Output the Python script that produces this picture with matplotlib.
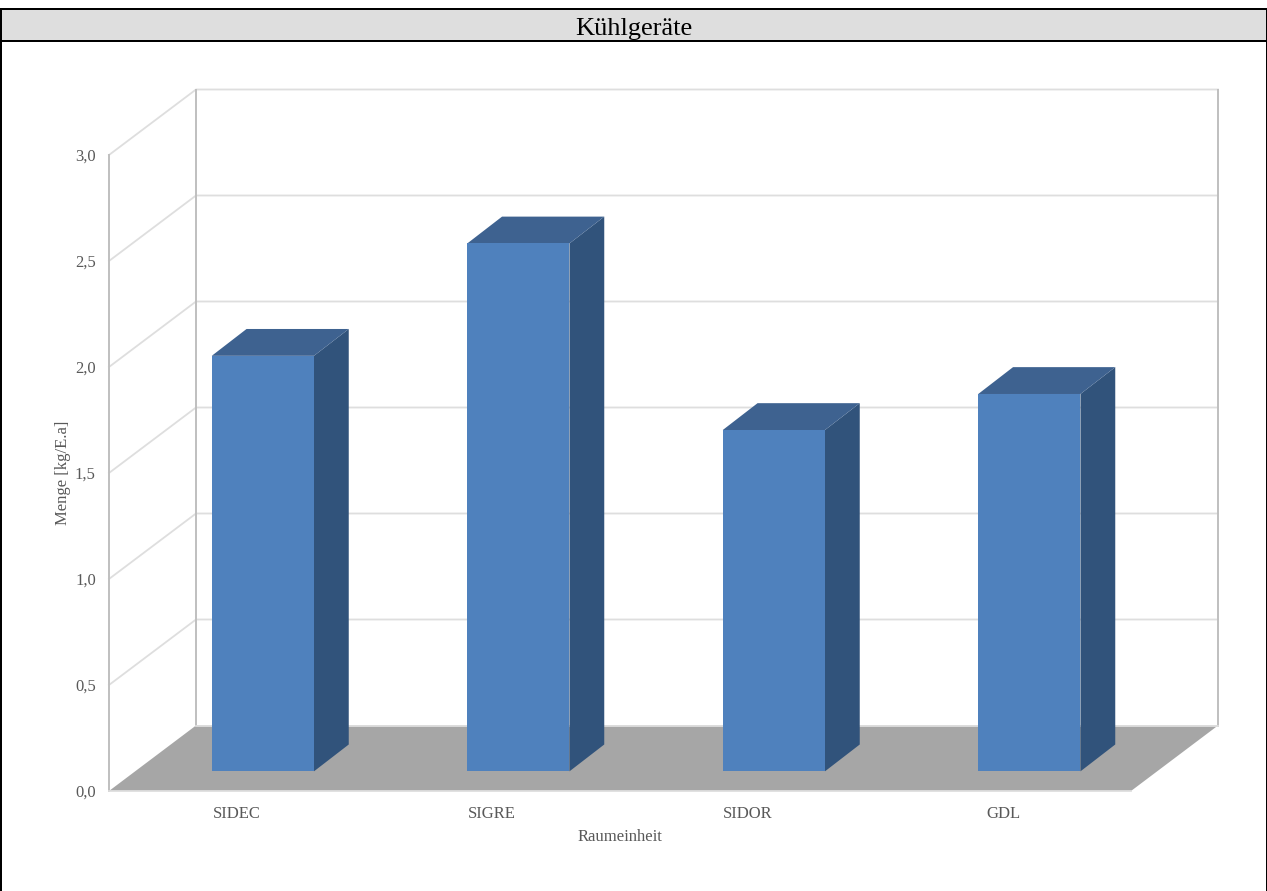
import matplotlib
matplotlib.use('Agg')
import matplotlib.pyplot as plt
from matplotlib.patches import Rectangle

# Daten
regions = ['SIDEC', 'SIGRE', 'SIDOR', 'GDL']
values = [1.96, 2.49, 1.61, 1.78]
y_ticks = [0.0, 0.5, 1.0, 1.5, 2.0, 2.5, 3.0]
y_labels = ['0,0', '0,5', '1,0', '1,5', '2,0', '2,5', '3,0']

W, H = 1267, 891
plt.rcParams['font.family'] = ['Liberation Serif', 'DejaVu Serif']

fig = plt.figure(figsize=(W / 100, H / 100), dpi=100, facecolor='white')
ax = fig.add_axes([109 / W, 1 - 791 / H, (1131 - 109) / W, (791 - 155) / H])
ax.set_xlim(0, len(regions))
ax.set_ylim(0, 3)
ax.patch.set_visible(False)
for s in ax.spines.values():
    s.set_visible(False)

# Tiefe der 3D-Darstellung in Achseneinheiten
n = len(regions)
dx = 87 / 255.5
dy = 65.5 / 212
wall = '#BFBFBF'
grid = '#DEDEDE'

# Gitter: Rueckwand und linke Seitenwand
for t in y_ticks:
    if t > 0:
        ax.plot([0, dx, n + dx], [t, t + dy, t + dy], color=grid, lw=1.3, clip_on=False, zorder=1)
ax.plot([0, 0], [0, 3], color=wall, lw=1.4, clip_on=False, zorder=2)
ax.plot([dx, dx], [dy, 3 + dy], color=wall, lw=1.4, clip_on=False, zorder=2)
ax.plot([n + dx] * 2, [dy, 3 + dy], color=wall, lw=1.4, clip_on=False, zorder=2)

# Boden
ax.fill([0, n, n + dx, dx], [0, 0, dy, dy], facecolor='#A6A6A6', edgecolor='none', clip_on=False, zorder=3)
ax.plot([0, n], [0, 0], color=grid, lw=1.3, clip_on=False, zorder=3)
ax.plot([dx, n + dx], [dy, dy], color=grid, lw=1.3, clip_on=False, zorder=3)

# Balken
bar_w = 0.4
front = 0.3
for i, v in enumerate(values):
    x0 = i + 0.5 - bar_w / 2 + front * dx
    x1 = x0 + bar_w
    y0 = front * dy
    y1 = y0 + v
    ddx = 0.4 * dx
    ddy = 0.41 * dy
    ax.fill([x1, x1 + ddx, x1 + ddx, x1], [y0, y0 + ddy, y1 + ddy, y1], color='#31537B', lw=0, clip_on=False, zorder=4)
    ax.fill([x0, x1, x1 + ddx, x0 + ddx], [y1, y1, y1 + ddy, y1 + ddy], color='#3E6290', lw=0, clip_on=False, zorder=4)
    ax.bar(x0, v, width=bar_w, bottom=y0, align='edge', color='#4F81BD', lw=0, clip_on=False, zorder=5)

ax.set_xticks([i + 0.5 for i in range(n)])
ax.set_xticklabels(regions, fontsize=12, color='#595959')
ax.set_yticks(y_ticks)
ax.set_yticklabels(y_labels, fontsize=12, color='#595959')
ax.tick_params(axis='x', length=0, pad=10.5)
ax.tick_params(axis='y', length=0, pad=9.5)
ax.set_xlabel('Raumeinheit', fontsize=12, color='#595959', labelpad=5)
ax.set_ylabel('Menge [kg/E.a]', fontsize=12, color='#595959', labelpad=3)

# Rahmen und Kopfzeile
def frame(x, y, w, h, c):
    fig.add_artist(Rectangle((x / W, 1 - (y + h) / H), w / W, h / H, transform=fig.transFigure,
                             facecolor=c, edgecolor='none', zorder=10))

frame(0, 10, W, 30, '#DEDEDE')
frame(0, 8, W, 2, 'black')
frame(0, 40, W, 2, 'black')
frame(0, 8, 2, H - 8, 'black')
frame(W - 1.5, 8, 1.5, H - 8, 'black')
fig.text(634 / W, 1 - 35 / H, 'Kühlgeräte', fontsize=19, color='black', ha='center', va='baseline', zorder=11)

fig.savefig('out.png', dpi=100)
